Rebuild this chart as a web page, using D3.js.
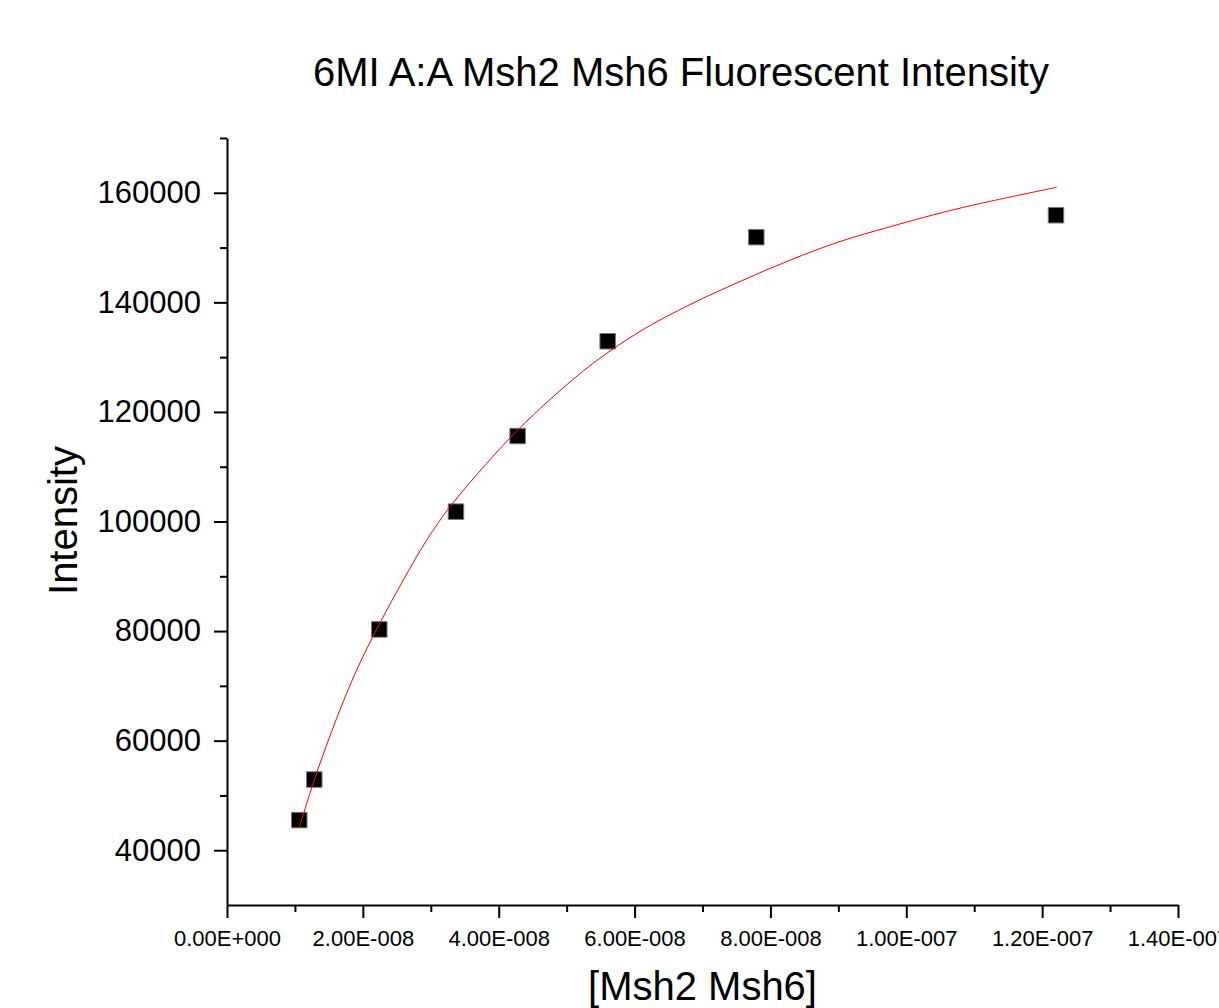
<!DOCTYPE html>
<html>
<head>
<meta charset="utf-8">
<script src="https://cdn.jsdelivr.net/npm/d3@7"></script>
<style>
  body { margin: 0; background: #fff; }
  text { font-family: 'Liberation Sans', Arial, sans-serif; fill: #000; }
</style>
</head>
<body>
<div id="wrapper"></div>
<script>
// measured points
const concX = [1.064e-8, 1.285e-8, 2.242e-8, 3.371e-8, 4.279e-8, 5.604e-8, 7.792e-8, 1.2204e-7];
const intensity = [45500, 52900, 80300, 101800, 115600, 132900, 151900, 155900];

// fit curve
const fitX = [1.064e-8, 1.320e-8, 1.615e-8, 1.909e-8, 2.252e-8, 2.595e-8, 2.940e-8, 3.283e-8,
  3.823e-8, 4.265e-8, 4.803e-8, 5.392e-8, 6.080e-8, 6.816e-8, 7.552e-8, 8.288e-8,
  9.024e-8, 9.760e-8, 1.0791e-7, 1.2214e-7];
const fitY = [44200, 54100, 64100, 72900, 81500, 89300, 96600, 102700,
  110600, 116500, 122800, 128900, 134700, 139600, 143800, 147700,
  151100, 153800, 157200, 161000];

const xTicks = [0, 2e-8, 4e-8, 6e-8, 8e-8, 1e-7, 1.2e-7, 1.4e-7];
const xTickLabels = ['0.00E+000', '2.00E-008', '4.00E-008', '6.00E-008', '8.00E-008', '1.00E-007', '1.20E-007', '1.40E-007'];
const yTicks = [40000, 60000, 80000, 100000, 120000, 140000, 160000];

const titleText = '6MI A:A Msh2 Msh6 Fluorescent Intensity';
const xLabel = '[Msh2 Msh6]';
const yLabel = 'Intensity';

const dimensions = {
  width: 1219,
  height: 1008,
  margins: { top: 138, right: 41, bottom: 103, left: 227 }
};
dimensions.boundedWidth = dimensions.width - dimensions.margins.left - dimensions.margins.right;
dimensions.boundedHeight = dimensions.height - dimensions.margins.top - dimensions.margins.bottom;

const wrapper = d3.select('#wrapper')
  .append('svg')
    .attr('width', dimensions.width)
    .attr('height', dimensions.height);

const bounds = wrapper.append('g')
    .attr('transform', `translate(${dimensions.margins.left},${dimensions.margins.top})`);

const xScale = d3.scaleLinear()
  .domain([0, 1.4e-7])
  .range([0, dimensions.boundedWidth]);

const yScale = d3.scaleLinear()
  .domain([30000, 170000])
  .range([dimensions.boundedHeight, 0]);

// minor ticks first
const xMinor = d3.range(1, 14, 2).map(i => i * 1e-8);
bounds.append('g')
    .attr('transform', `translate(0,${dimensions.boundedHeight})`)
    .call(d3.axisBottom(xScale).tickValues(xMinor).tickSize(7).tickFormat(''))
    .call(g => g.select('.domain').remove())
    .call(g => g.selectAll('line').attr('stroke-width', 2));

const yMinor = d3.range(50000, 180000, 20000);
bounds.append('g')
    .call(d3.axisLeft(yScale).tickValues(yMinor).tickSize(7).tickFormat(''))
    .call(g => g.select('.domain').remove())
    .call(g => g.selectAll('line').attr('stroke-width', 2));

// major axes
const xAxis = bounds.append('g')
    .attr('transform', `translate(0,${dimensions.boundedHeight})`)
    .call(d3.axisBottom(xScale)
      .tickValues(xTicks)
      .tickSize(13)
      .tickSizeOuter(0)
      .tickPadding(12)
      .tickFormat((d, i) => xTickLabels[i]));
xAxis.select('.domain').attr('stroke-width', 2);
xAxis.selectAll('line').attr('stroke-width', 2);
xAxis.selectAll('text').style('font-size', '22px');

const yAxis = bounds.append('g')
    .call(d3.axisLeft(yScale)
      .tickValues(yTicks)
      .tickSize(13)
      .tickSizeOuter(0)
      .tickPadding(13)
      .tickFormat(d3.format('d')));
yAxis.select('.domain').attr('stroke-width', 2);
yAxis.selectAll('line').attr('stroke-width', 2);
yAxis.selectAll('text').style('font-size', '31px');

// data points
const points = d3.zip(concX, intensity);
bounds.append('g')
  .selectAll('path')
  .data(points)
  .join('path')
    .attr('transform', d => `translate(${xScale(d[0])},${yScale(d[1])})`)
    .attr('d', d3.symbol(d3.symbolSquare, 240))
    .attr('fill', '#000')
    .attr('stroke', '#777')
    .attr('stroke-width', 1);

// fit curve
const lineGenerator = d3.line()
    .x(d => xScale(d[0]))
    .y(d => yScale(d[1]))
    .curve(d3.curveCatmullRom);

bounds.append('path')
    .attr('d', lineGenerator(d3.zip(fitX, fitY)))
    .attr('fill', 'none')
    .attr('stroke', '#f00')
    .attr('stroke-width', 1);

// labels
wrapper.append('text')
    .attr('x', 681)
    .attr('y', 86)
    .attr('text-anchor', 'middle')
    .style('font-size', '40px')
    .text(titleText);

wrapper.append('text')
    .attr('x', dimensions.margins.left + dimensions.boundedWidth / 2)
    .attr('y', 1000)
    .attr('text-anchor', 'middle')
    .style('font-size', '40px')
    .text(xLabel);

wrapper.append('text')
    .attr('transform', `translate(77,${dimensions.margins.top + yScale(100000) - 1}) rotate(-90)`)
    .attr('text-anchor', 'middle')
    .style('font-size', '40px')
    .text(yLabel);
</script>
</body>
</html>
